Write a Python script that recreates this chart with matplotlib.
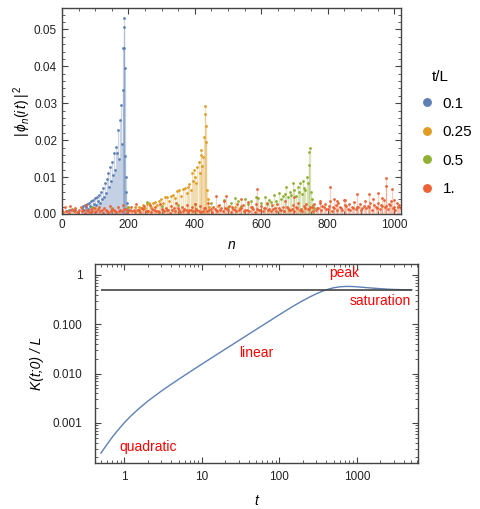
import numpy as np
import matplotlib.pyplot as plt
from matplotlib.ticker import MultipleLocator, LogLocator, NullFormatter, FixedLocator, FixedFormatter

plt.rcParams['font.family'] = ['Liberation Sans', 'DejaVu Sans']
plt.rcParams['mathtext.fontset'] = 'custom'
plt.rcParams['mathtext.rm'] = 'Liberation Sans'
plt.rcParams['mathtext.it'] = 'Liberation Sans:italic'

# ---- top panel: |phi_n(it)|^2 for a few t/L ----
series_labels = ['0.1', '0.25', '0.5', '1.']
series_colors = ['#5e81b5', '#e19c24', '#8fb032', '#eb6235']

blue_n = [20, 40, 60, 63, 66, 69, 72, 75, 78, 81, 84, 87, 90, 93, 96, 99, 102, 105, 108,
          111, 114, 117, 120, 123, 126, 129, 132, 135, 138, 141, 144, 147, 150, 153,
          156, 159, 162, 165, 168, 171, 174, 177, 180, 183, 185, 186, 187, 188, 189,
          190, 192, 194, 196, 198]
blue_p = [.0010, .0012, .0015, .0022, .0012, .0025, .0018, .0028, .0014, .0030, .0022,
          .0035, .0020, .0038, .0028, .0042, .0025, .0047, .0034, .0052, .0030, .0060,
          .0041, .0070, .0045, .0083, .0058, .0095, .0110, .0072, .0128, .0090, .0141,
          .0105, .0166, .0120, .0182, .0164, .0227, .0150, .0254, .0295, .0190, .0335,
          .0450, .0532, .0506, .0450, .0396, .0157, .0100, .0060, .0030, .0012]

orange_n = [100, 150, 200, 220, 226, 232, 238, 244, 250, 256, 262, 268, 274, 280, 286,
            292, 298, 304, 310, 316, 322, 328, 334, 340, 346, 352, 358, 364, 370, 376,
            380, 384, 388, 392, 395, 398, 401, 404, 408, 412, 415, 418, 420, 423, 426,
            429, 431, 432, 433, 434, 437, 440, 443, 470, 520]
orange_p = [.0015, .0012, .0018, .0018, .0012, .0020, .0015, .0024, .0016, .0027, .0029,
            .0020, .0031, .0033, .0024, .0036, .0040, .0030, .0045, .0047, .0036, .0050,
            .0052, .0042, .0062, .0065, .0048, .0068, .0071, .0058, .0074, .0082, .0065,
            .0110, .0090, .0119, .0100, .0085, .0128, .0141, .0110, .0161, .0173, .0130,
            .0155, .0209, .0292, .0272, .0237, .0196, .0065, .0040, .0020, .0022, .0018]

green_n = [30, 90, 150, 200, 255, 300, 350, 400, 450, 487, 500, 510, 520, 530, 540, 550,
           560, 570, 584, 590, 600, 610, 616, 622, 630, 637, 644, 652, 658, 664, 670,
           675, 680, 686, 690, 695, 700, 704, 710, 714, 718, 722, 725, 729, 733, 737,
           740, 743, 745, 747, 749, 752, 756, 760]
green_p = [.0014, .0018, .0016, .0020, .0033, .0022, .0025, .0028, .0030, .0038, .0020,
           .0030, .0044, .0035, .0022, .0040, .0028, .0034, .0045, .0042, .0030, .0045,
           .0028, .0038, .0032, .0051, .0035, .0058, .0040, .0048, .0055, .0074, .0045,
           .0060, .0052, .0083, .0065, .0050, .0074, .0060, .0083, .0055, .0089, .0070,
           .0065, .0101, .0083, .0133, .0169, .0180, .0060, .0040, .0025, .0015]

# red (t/L = 1) is spread over the whole chain: two interleaved floors + a few spikes
red_floor_p = [.0012, .0018, .0008, .0021, .0010, .0015, .0006, .0019, .0011, .0024, .0009, .0014, .0017, .0007, .0020, .0012,
               .0016, .0009, .0022, .0013, .0008, .0018, .0011, .0025, .0014, .0007, .0019, .0012, .0028, .0010, .0016, .0021,
               .0009, .0023, .0014, .0018, .0008, .0026, .0012, .0017, .0010, .0022, .0015, .0030, .0011, .0019, .0013, .0024,
               .0010, .0018, .0027, .0012, .0021, .0009, .0016, .0031, .0013, .0020, .0011, .0025, .0017, .0035, .0014, .0022,
               .0019, .0012, .0028, .0016, .0023, .0010, .0032, .0018, .0014, .0026, .0011, .0021, .0017, .0029, .0013, .0024,
               .0015, .0027, .0012, .0020, .0034, .0016, .0011, .0025, .0018, .0030, .0013, .0022, .0028, .0014, .0019, .0026,
               .0017, .0031, .0021, .0028, .0013, .0036, .0019, .0024, .0030, .0015, .0038, .0022, .0027, .0018, .0033, .0020,
               .0026, .0016, .0034, .0022, .0029, .0040, .0019, .0031, .0024, .0037, .0021, .0028, .0035, .0018, .0030, .0025]
red_floor2_p = [.0006, .0009, .0004, .0011, .0007, .0005, .0010, .0008, .0003, .0012, .0006, .0009, .0005, .0013, .0007, .0004,
                .0010, .0006, .0008, .0012, .0005, .0009, .0007, .0014, .0004, .0010, .0008, .0006, .0011, .0005, .0013, .0007,
                .0008, .0005, .0012, .0009, .0006, .0014, .0007, .0010, .0004, .0011, .0008, .0015, .0006, .0009, .0012, .0005,
                .0011, .0007, .0013, .0009, .0006, .0016, .0008, .0010, .0005, .0014, .0009, .0012, .0007, .0017, .0010, .0006,
                .0013, .0008, .0011, .0015, .0007, .0012, .0009, .0018, .0006, .0013, .0010, .0008, .0016, .0011, .0007, .0014,
                .0009, .0016, .0012, .0008, .0019, .0010, .0014, .0007, .0017, .0011, .0009, .0015, .0013, .0020, .0008, .0012,
                .0015, .0010, .0018, .0013, .0021, .0009, .0016, .0012, .0019, .0011, .0023, .0014, .0010, .0017, .0013, .0020,
                .0012, .0022, .0015, .0019, .0011, .0024, .0016, .0013, .0021, .0018, .0014, .0025, .0017, .0012, .0020, .0015]
red_spike_n = [463, 493, 540, 588, 700, 777, 808, 818, 828, 852, 888, 925, 951, 963, 974, 975, 993, 1000]
red_spike_p = [.0049, .0049, .0040, .0069, .0045, .0036, .0072, .0040, .0036, .0038, .0053,
               .0053, .0056, .0042, .0097, .0076, .0068, .0038]
red_floor_n = [8 * i for i in range(len(red_floor_p))]
red_floor2_n = [8 * i + 4 for i in range(len(red_floor2_p))]
red_n = red_floor_n + red_floor2_n + red_spike_n
red_p = red_floor_p + red_floor2_p + red_spike_p

all_n = [blue_n, orange_n, green_n, red_n]
all_p = [blue_p, orange_p, green_p, red_p]

# ---- bottom panel: spectral form factor ----
t_vals = [0.5, 0.6, 0.7, 0.8, 1, 1.2, 1.5, 2, 3, 4, 6, 8, 10, 15, 20, 30, 50, 70, 100,
          150, 200, 250, 300, 350, 400, 450, 500, 600, 700, 800, 900, 1000, 1200, 1500,
          2000, 2500, 3000, 4000, 5120]
k_vals = [2.44e-4, 3.71e-4, 5.15e-4, 6.72e-4, 1.01e-3, 1.357e-3, 1.88e-3, 2.75e-3,
          4.42e-3, 6.04e-3, 9.23e-3, 0.01239, 0.01554, 0.02344, 0.03125, 0.0469, 0.0781,
          0.1094, 0.156, 0.232, 0.300, 0.362, 0.415, 0.460, 0.497, 0.527, 0.549, 0.574,
          0.584, 0.585, 0.581, 0.575, 0.562, 0.545, 0.527, 0.515, 0.508, 0.502, 0.500]
saturation = 0.5

fig = plt.figure(figsize=(4.8, 5.09), dpi=100)
ax1 = fig.add_axes([0.129, 0.5796, 0.706, 0.4047])
ax2 = fig.add_axes([0.198, 0.0904, 0.673, 0.391])

frame_col = '#444444'
tick_col = '#222222'

for n, p, c, lab in zip(all_n, all_p, series_colors, series_labels):
    ax1.vlines(n, 0, p, color=c, alpha=0.3, lw=0.9)
    ax1.plot(n, p, 'o', ms=2.0, color=c, mew=0, label=lab)

ax1.set_xlim(0, 1020)
ax1.set_ylim(0, 0.0558)
ax1.xaxis.set_major_locator(MultipleLocator(200))
ax1.xaxis.set_minor_locator(MultipleLocator(50))
ax1.yaxis.set_major_locator(MultipleLocator(0.01))
ax1.yaxis.set_minor_locator(MultipleLocator(0.002))
ax1.yaxis.set_major_formatter(plt.FuncFormatter(lambda v, _: f'{v:.2f}'))
ax1.set_xlabel('n', fontstyle='italic', fontsize=10, labelpad=5)
ax1.set_ylabel(r'$|\,\phi_n(i\,t)\,|^{\,2}$', fontsize=10, labelpad=1)

ax2.plot(t_vals, k_vals, color='#5e81b5', lw=1.0)
ax2.hlines(saturation, t_vals[0], t_vals[-1], color='#444444', lw=1.2)
ax2.set_xscale('log')
ax2.set_yscale('log')
ax2.set_xlim(0.419, 6160)
ax2.set_ylim(1.54e-4, 1.67)
ax2.xaxis.set_major_locator(FixedLocator([1, 10, 100, 1000]))
ax2.xaxis.set_major_formatter(FixedFormatter(['1', '10', '100', '1000']))
ax2.xaxis.set_minor_locator(LogLocator(base=10, subs=np.arange(2, 10)))
ax2.xaxis.set_minor_formatter(NullFormatter())
ax2.yaxis.set_major_locator(FixedLocator([0.001, 0.01, 0.1, 1]))
ax2.yaxis.set_major_formatter(FixedFormatter(['0.001', '0.010', '0.100', '1']))
ax2.yaxis.set_minor_locator(LogLocator(base=10, subs=np.arange(2, 10)))
ax2.yaxis.set_minor_formatter(NullFormatter())
ax2.set_xlabel('t', fontstyle='italic', fontsize=10, labelpad=8)
ax2.set_ylabel('K(t;0) / L', fontstyle='italic', fontsize=10, labelpad=6)

ax2.text(2.02, 3.2e-4, 'quadratic', color='red', fontsize=10, ha='center', va='center')
ax2.text(50, 0.026, 'linear', color='red', fontsize=10, ha='center', va='center')
ax2.text(690, 1.1, 'peak', color='red', fontsize=10, ha='center', va='center')
ax2.text(2034, 0.29, 'saturation', color='red', fontsize=10, ha='center', va='center')

for ax in (ax1, ax2):
    for s in ax.spines.values():
        s.set_color(frame_col)
        s.set_linewidth(1.0)
    ax.tick_params(which='both', direction='in', top=True, right=True,
                   color=frame_col, labelcolor=tick_col, labelsize=8.5)
    ax.tick_params(which='major', length=4)
    ax.tick_params(which='minor', length=2)
ax2.tick_params(axis='y', which='major', pad=9)
ax2.tick_params(axis='x', which='major', pad=6)

fig.text(432 / 480, 1 - 77 / 509, 't/L', fontsize=11, ha='left', va='center')
fig.legend(*ax1.get_legend_handles_labels(), loc='upper left',
           bbox_to_anchor=(0.851, 0.837), frameon=False,
           fontsize=11, markerscale=3.2,
           handlelength=0.6, handletextpad=0.75, labelspacing=0.95)

fig.savefig('out.png', dpi=100)
